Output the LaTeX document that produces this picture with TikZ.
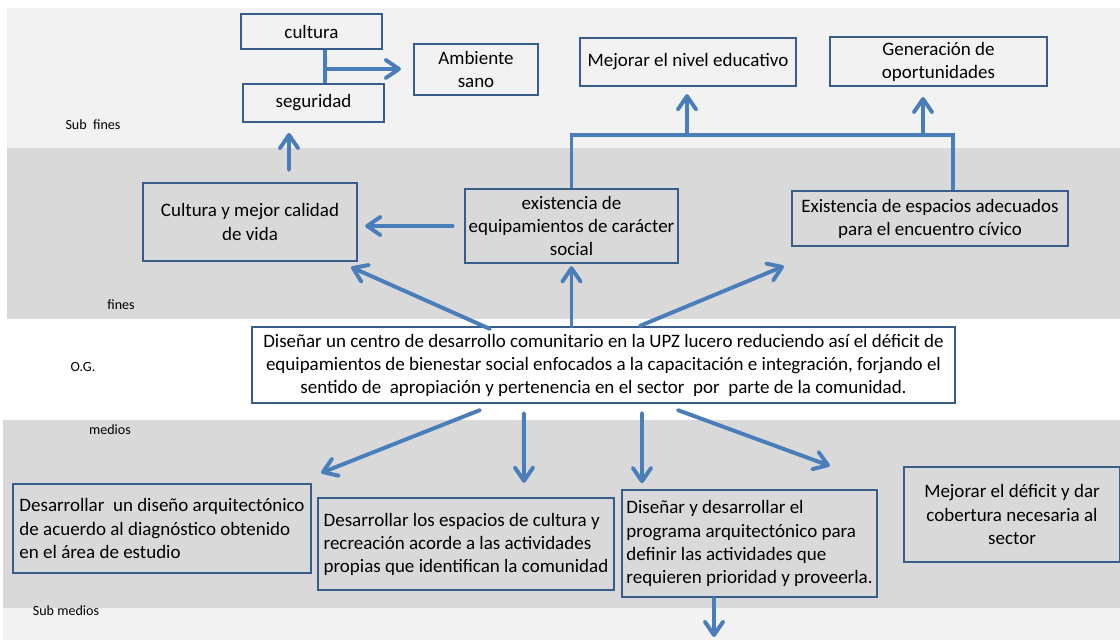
\documentclass[tikz,border=0pt]{standalone}
\usepackage{fontspec}
\setmainfont{Carlito}
\usetikzlibrary{arrows.meta, positioning}

\definecolor{bandlight}{HTML}{F2F2F2}
\definecolor{banddark}{HTML}{D9D9D9}
\definecolor{boxline}{HTML}{385D8A}
\definecolor{arrowblue}{HTML}{4A7EBB}

\begin{document}
\begin{tikzpicture}[
        x=0.025cm, y=-0.025cm,
        every node/.style={font=\fontsize{13.5}{16.4}\selectfont, inner sep=1pt},
        wh/.style 2 args={minimum width=#1*0.025cm, minimum height=#2*0.025cm},
        arrow/.style={-{Straight Barb[length=9.5pt, width=13pt, round]}, line width=2.8pt, arrowblue, line cap=round}
    ]

    \tikzset{
    box/.style={draw=boxline, line width=1.6pt, align=center},
    leftbox/.style={box, align=left},
    link/.style={line width=2.3pt, arrowblue},
    lbl/.style={font=\fontsize{10}{12}\selectfont}
}

    \useasboundingbox (0,0) rectangle (1120,640);

    % bands
    \fill[bandlight] (7,8) rectangle (1120,148);
    \fill[banddark] (7,148) rectangle (1120,319);
    \fill[banddark] (3,420) rectangle (1120,608);
    \fill[bandlight] (3,608) rectangle (1120,640);

    \node[lbl] (subfines) at (93,125) {Sub\ \ fines};
    \node[lbl] (fines) at (121,305) {fines};
    \node[lbl] (og-lbl) at (83,367) {O.G.};
    \node[lbl] (medios) at (110,430) {medios};
    \node[lbl] (submedios) at (66,611) {Sub medios};

    % sub fines
    \node[box, wh={141}{35}] (cultura) at (311.5,31.5) {cultura};
    \node[box, wh={141}{38}] (seguridad) at (313.5,103) {seguridad};
    \node[box, wh={124}{51}] (ambiente) at (476,69.5) {Ambiente\\sano};
    \node[box, wh={216}{48}] (mejorar) at (688,62) {Mejorar el nivel educativo};
    \node[box, wh={217}{49}] (generacion) at (938.5,61.5) {Generación de\\oportunidades};

    % fines
    \node[box, wh={214}{78}] (cultmejor) at (250,222) {Cultura y mejor calidad\\de vida};
    \node[box, wh={213}{74}] (existencia) at (571.5,226) {existencia de\\equipamientos de carácter\\social};
    \node[box, wh={276}{55}] (espacios) at (930,218.5) {Existencia de espacios adecuados\\para el encuentro cívico};

    % objetivo general
    \node[box, fill=white, wh={703}{76}] (og) at (603.5,365) {Diseñar un centro de desarrollo comunitario en la UPZ lucero reduciendo así el déficit de\\equipamientos de bienestar social enfocados a la capacitación e integración, forjando el\\sentido de\ \ apropiación y pertenencia en el sector\ \ por\ \ parte de la comunidad.};

    % medios
    \node[leftbox, wh={298}{89}] (dis1) at (162,528.5) {Desarrollar\ \ un diseño arquitectónico\\de acuerdo al diagnóstico obtenido\\en el área de estudio};
    \node[leftbox, wh={296}{92}] (dis2) at (466,544) {Desarrollar los espacios de cultura y\\recreación acorde a las actividades\\propias que identifican la comunidad};
    \node[leftbox, wh={255}{107}] (dis3) at (749.5,543.5) {Diseñar y desarrollar el\\programa arquitectónico para\\definir las actividades que\\requieren prioridad y proveerla.};
    \node[box, wh={216}{95}] (deficit) at (1012,514.5) {Mejorar el déficit y dar\\cobertura necesaria al\\sector};

    \coordinate (junc) at (325,69);
    \coordinate (barR) at (953,135);
    \coordinate (barM) at (687,135);
    \coordinate (barG) at (923,135);
    \coordinate (out) at (714,637);

    \draw[link] (cultura.south -| junc) -- (seguridad.north -| junc);
    \draw[arrow, shorten >=8.5pt] (junc) -- (ambiente.west |- junc);
    \draw[arrow, shorten <=8.5pt, shorten >=7pt] ([xshift=0.975cm]cultmejor.north) -- ([xshift=-0.6125cm]seguridad.south);
    \draw[arrow, shorten <=8pt, shorten >=5pt] (existencia.west) -- (existencia.west -| cultmejor.east);

    \draw[link] (existencia.north) |- (barR) -- (espacios.north -| barR);
    \draw[arrow, shorten >=5pt] (barM) -- (barM |- mejorar.south);
    \draw[arrow, shorten >=7pt] (barG) -- (barG |- generacion.south);

    \draw[arrow] ([xshift=-2.84cm, yshift=-0.075cm]og.north) -- ([xshift=-0.175cm, yshift=-0.125cm]cultmejor.south east);
    \draw[arrow, shorten >=1.5pt] (og.north -| existencia.south) -- (existencia.south);
    \draw[arrow] ([xshift=0.91cm]og.north) -- ([xshift=-0.175cm, yshift=-0.475cm]espacios.south west);

    \draw[arrow] ([xshift=-3.09cm, yshift=-0.15cm]og.south) -- ([xshift=0.225cm, yshift=0.25cm]dis1.north east);
    \draw[arrow, shorten >=10pt] ([xshift=-1.99cm, yshift=-0.225cm]og.south) -- ([xshift=1.45cm]dis2.north);
    \draw[arrow, shorten >=4pt] ([xshift=0.9625cm, yshift=-0.225cm]og.south) -- ([xshift=-2.6875cm]dis3.north);
    \draw[arrow] ([xshift=1.86cm, yshift=-0.15cm]og.south) -- ([xshift=-1.825cm]deficit.north west);
    \draw[arrow] ([xshift=-0.8875cm]dis3.south) -- (out);
    \end{tikzpicture}
\end{document}
